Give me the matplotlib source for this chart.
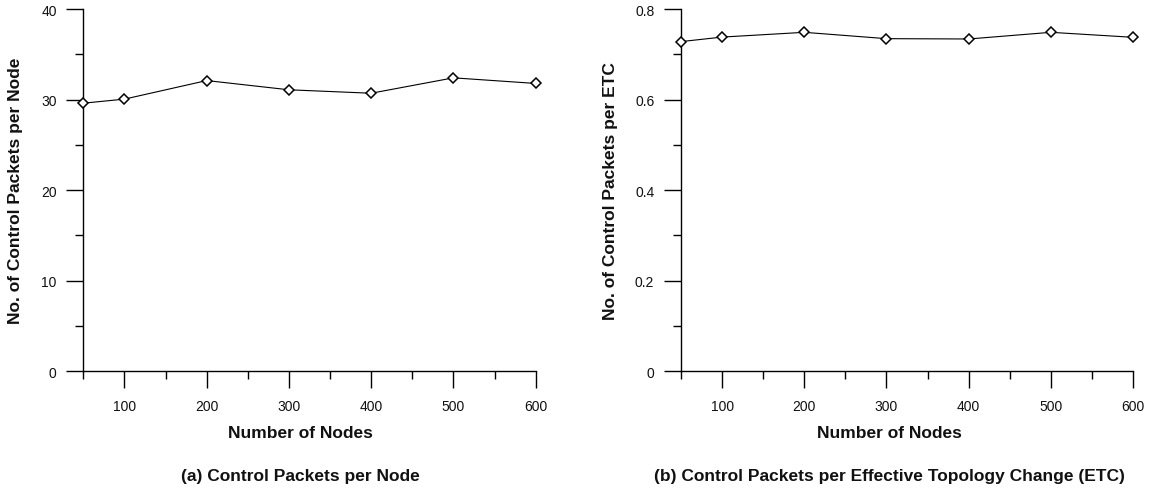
import matplotlib
matplotlib.use("Agg")
import matplotlib.pyplot as plt
from matplotlib.ticker import FixedLocator, MultipleLocator

plt.rcParams["font.family"] = ["Liberation Sans", "DejaVu Sans"]

# Data
nodes = [50, 100, 200, 300, 400, 500, 600]
packets_per_node = [29.6, 30.05, 32.1, 31.08, 30.7, 32.4, 31.78]
packets_per_etc = [0.728, 0.738, 0.7485, 0.7345, 0.7338, 0.7485, 0.7375]

x_major = [100, 200, 300, 400, 500, 600]
x_minor = [50, 150, 250, 350, 450, 550]
y_ticks_a = [0, 10, 20, 30, 40]
y_labels_a = ["0", "10", "20", "30", "40"]
y_ticks_b = [0, 0.2, 0.4, 0.6, 0.8]
y_labels_b = ["0", "0.2", "0.4", "0.6", "0.8"]

W, H = 1156, 489
fig = plt.figure(figsize=(W / 100, H / 100), dpi=100)


def px_axes(x0, x1, ytop, ybot):
    return fig.add_axes([x0 / W, 1 - ybot / H, (x1 - x0) / W, (ybot - ytop) / H])


def style(ax, yticks, ylabels, ymax, yminor):
    ax.set_xlim(50, 600)
    ax.set_ylim(0, ymax)
    for s in ("top", "right"):
        ax.spines[s].set_visible(False)
    for s in ("left", "bottom"):
        ax.spines[s].set_linewidth(1.0)
        ax.spines[s].set_color("black")
    ax.xaxis.set_major_locator(FixedLocator(x_major))
    ax.xaxis.set_minor_locator(FixedLocator(x_minor))
    ax.set_xticklabels([str(v) for v in x_major])
    ax.yaxis.set_major_locator(FixedLocator(yticks))
    ax.yaxis.set_minor_locator(MultipleLocator(yminor))
    ax.set_yticklabels(ylabels)
    ax.tick_params(which="major", direction="out", length=12.2, width=1.0,
                   color="black", labelsize=10, labelcolor="#111111")
    ax.tick_params(which="minor", direction="out", length=5.8, width=1.0,
                   color="black")
    ax.tick_params(axis="y", which="major", pad=7.0)
    ax.tick_params(axis="x", which="major", pad=7.8)
    ax.set_facecolor("white")


def series(ax, y):
    ax.plot(nodes, y, color="black", linewidth=0.8, marker="D",
            markersize=5.4, markerfacecolor="white", markeredgecolor="black",
            markeredgewidth=1.1, clip_on=False, zorder=5)


axA = px_axes(83.3, 535.7, 10, 372.3)
style(axA, y_ticks_a, y_labels_a, 40, 5)
series(axA, packets_per_node)

axB = px_axes(681, 1133, 10, 372.3)
style(axB, y_ticks_b, y_labels_b, 0.8, 0.1)
series(axB, packets_per_etc)

bold = dict(fontsize=12.5, fontweight="bold", color="#111111")


def ftext(x, y, s, **kw):
    fig.text(x / W, 1 - y / H, s, **kw)


# Axis titles
ftext(16, 191, "No. of Control Packets per Node", rotation=90,
      ha="center", va="center", **bold)
ftext(610, 191, "No. of Control Packets per ETC", rotation=90,
      ha="center", va="center", **bold)
ftext(300.5, 438, "Number of Nodes", ha="center", va="baseline", **bold)
ftext(889.6, 438, "Number of Nodes", ha="center", va="baseline", **bold)

# Panel captions
ftext(300.5, 481, "(a) Control Packets per Node", ha="center",
      va="baseline", **bold)
ftext(889.6, 481, "(b) Control Packets per Effective Topology Change (ETC)",
      ha="center", va="baseline", **bold)

fig.savefig("out.png", dpi=100, facecolor="white")
